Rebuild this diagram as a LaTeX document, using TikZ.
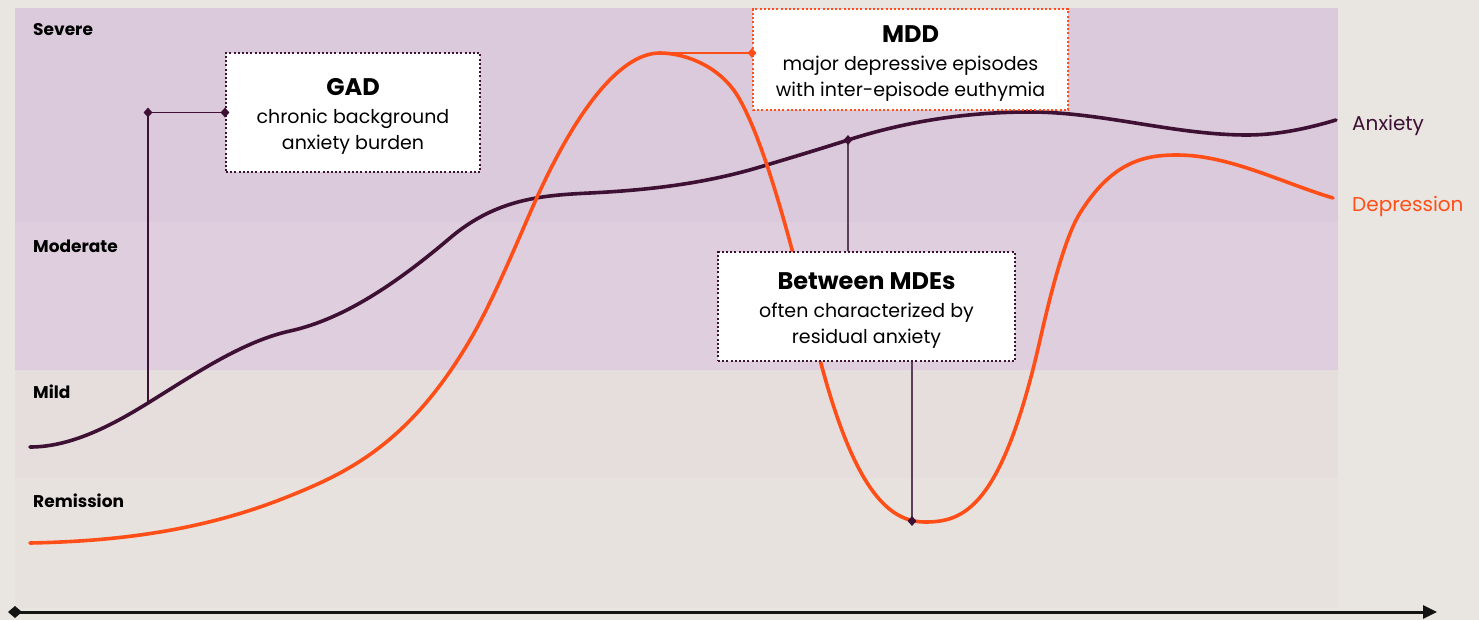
\documentclass[tikz,border=0pt]{standalone}
\usepackage{fontspec}
\setmainfont{Poppins}
\usetikzlibrary{arrows.meta,shapes.geometric}
\definecolor{pagebg}{HTML}{E9E6E2}
\definecolor{bandsevere}{HTML}{DBCADB}
\definecolor{bandmoderate}{HTML}{DECEDE}
\definecolor{bandmild}{HTML}{E5DEDC}
\definecolor{bandremission}{HTML}{E7E2DE}
\definecolor{anx}{HTML}{3D1034}
\definecolor{dep}{HTML}{FF4E17}
\definecolor{linkgray}{HTML}{5C3F58}
\tikzset{
  bandlabel/.style={anchor=west,inner sep=0pt,font=\fontsize{17}{19}\selectfont\bfseries,text=black},
  callout/.style={draw=#1,fill=white,line width=2pt,dash pattern=on 2pt off 2.2pt,inner sep=0pt},
  callouttext/.style={align=center,inner sep=0pt,font=\fontsize{19}{26}\selectfont,text=black},
  marker/.style={diamond,fill=#1,inner sep=0pt,minimum width=9pt,minimum height=10pt},
  curvelabel/.style={anchor=west,inner sep=0pt,font=\fontsize{20}{22}\selectfont},
  link/.style={draw=#1,line width=1.3pt},
  course/.style={draw=#1,line width=3.6pt,line cap=round}
}
\newcommand{\callouttitle}[1]{{\fontsize{24}{26}\selectfont\bfseries #1}\\[2pt]}
\begin{document}
\begin{tikzpicture}[x=1pt,y=-1pt]
\useasboundingbox (0,0) rectangle (1479,620);
\fill[pagebg] (0,0) rectangle (1479,620);
% severity bands
\fill[bandsevere] (15,8) rectangle (1338,222);
\fill[bandmoderate] (15,222) rectangle (1338,370);
\fill[bandmild] (15,370) rectangle (1338,478);
\fill[bandremission] (15,478) rectangle (1338,608);
\node[bandlabel] (lsev) at (33,30) {Severe};
\node[bandlabel] (lmod) at (33,246) {Moderate};
\node[bandlabel] (lmil) at (33,392) {Mild};
\node[bandlabel] (lrem) at (33,501) {Remission};
% time axis
\coordinate (axstart) at (8,612);
\coordinate (axend) at (1437,612);
\draw[line width=3pt,color=black!92,{Diamond[length=14pt,width=12pt]}-{Triangle[length=14pt,width=13pt]}] (axstart) -- (axend);
% anxiety course
\coordinate (agad) at (148,403);
\coordinate (amde) at (848,140);
\draw[course=anx] (30,447)
  .. controls (69.3,447) and (108.7,427.4) .. (agad)
  .. controls (195.3,373.7) and (242.7,341.4) .. (290,331)
  .. controls (343.3,319.3) and (396.7,283.3) .. (450,238)
  .. controls (496.7,198.3) and (543.3,195.3) .. (590,193)
  .. controls (646.7,190.2) and (703.3,184) .. (760,167)
  .. controls (789.3,158.2) and (818.7,149.4) .. (amde)
  .. controls (908.7,120.6) and (969.3,112) .. (1030,112)
  .. controls (1102.3,112) and (1174.7,135) .. (1247,135)
  .. controls (1276.7,135) and (1306.3,128.9) .. (1336,120);
% depression course
\coordinate (dpeak) at (660,53);
\coordinate (dtrough) at (912,521);
\draw[course=dep] (30,543)
  .. controls (115.7,541.3) and (201.3,531.3) .. (287,497)
  .. controls (348,472.6) and (409,443.7) .. (470,340)
  .. controls (490,306) and (510,259) .. (530,213)
  .. controls (580,98) and (625,53) .. (dpeak)
  .. controls (683,53) and (721,65) .. (740,100)
  .. controls (765,145) and (790,237.5) .. (815,340)
  .. controls (851.7,490) and (888.3,522) .. (925,522)
  .. controls (963.3,522) and (1001.7,508.7) .. (1040,340)
  .. controls (1053.3,281.3) and (1066.7,234.3) .. (1080,213)
  .. controls (1112.3,161.3) and (1144.7,155) .. (1177,155)
  .. controls (1229,155) and (1281,182.4) .. (1333,198);
% callout boxes
\node[callout=anx,minimum width=254pt,minimum height=119pt] (gad) at (353,112.5) {};
\node[callout=dep,minimum width=315pt,minimum height=101pt] (mdd) at (910.5,59.5) {};
\node[callout=anx,minimum width=297pt,minimum height=109pt] (mde) at (866.5,306.5) {};
\node[callouttext] (gadtext) at ([yshift=-4pt]gad.center)
  {\callouttitle{GAD}chronic background\\anxiety burden};
\node[callouttext] (mddtext) at ([yshift=-4pt]mdd.center)
  {\callouttitle{MDD}major depressive episodes\\with inter-episode euthymia};
\node[callouttext] (mdetext) at ([yshift=-4pt]mde.center)
  {\callouttitle{Between MDEs}often characterized by\\residual anxiety};
% leader lines
\draw[link=anx] (gad.west) -| (agad);
\node[marker=anx] (mgad1) at (gad.west) {};
\node[marker=anx] (mgad2) at (gad.west -| agad) {};
\draw[link=dep] (dpeak) -- (dpeak -| mdd.west);
\node[marker=dep] (mmdd) at (dpeak -| mdd.west) {};
\draw[link=linkgray] (amde) -- (amde |- mde.north);
\node[marker=anx] (mmde1) at (amde) {};
\draw[link=linkgray] (dtrough |- mde.south) -- (dtrough);
\node[marker=anx] (mmde2) at (dtrough) {};
% series labels
\node[curvelabel,text=anx] (lanx) at (1352,125) {Anxiety};
\node[curvelabel,text=dep] (ldep) at (1352,206) {Depression};
\end{tikzpicture}
\end{document}
